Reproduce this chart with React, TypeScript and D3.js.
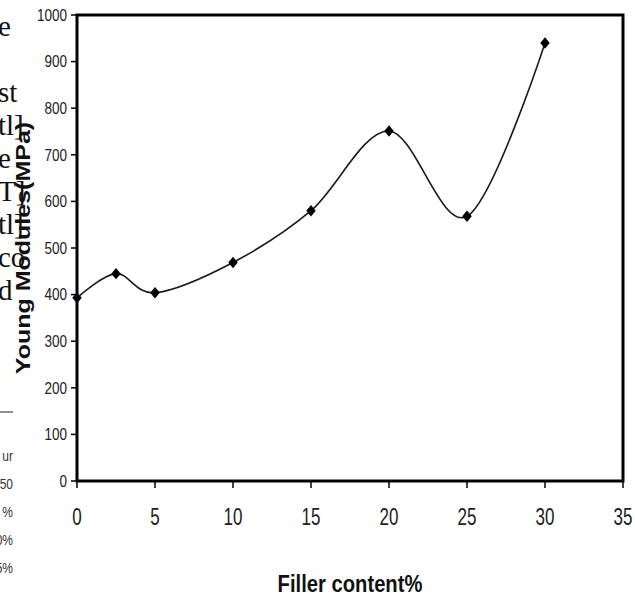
import React from 'react';
import * as d3 from 'd3';

// chart data
const fillerContent = [0, 2.5, 5, 10, 15, 20, 25, 30];
const youngModulus = [393, 445, 404, 469, 580, 751, 568, 940];
const xTicks = [0, 5, 10, 15, 20, 25, 30, 35];
const yTicks = [0, 100, 200, 300, 400, 500, 600, 700, 800, 900, 1000];

// bits of the page text that got cropped into the picture
const pageLines = ['e', '', 'st', 'tl]', 'e', 'T]', 'tl]', 'co', 'd'];
const tableBits = ['ur', '50', '%', '0%', '5%'];

const width = 635;
const height = 598;
const margin = { top: 15, right: 12, bottom: 117, left: 77 };
const sans = 'Liberation Sans, Arial, Helvetica, sans-serif';

// slightly tall diamond, like the Excel marker
const tallDiamond = {
  draw(ctx: any, size: number) {
    const r = Math.sqrt(size) / 2;
    ctx.moveTo(0, -r * 1.2);
    ctx.lineTo(r, 0);
    ctx.lineTo(0, r * 1.2);
    ctx.lineTo(-r, 0);
    ctx.closePath();
  },
};

const App = () => {
  const x = d3
    .scaleLinear()
    .domain([0, 35])
    .range([margin.left, width - margin.right]);
  const y = d3
    .scaleLinear()
    .domain([0, 1000])
    .range([height - margin.bottom, margin.top]);

  const points = fillerContent.map((f, i) => [f, youngModulus[i]] as [number, number]);

  const line = d3
    .line<[number, number]>()
    .x((d) => x(d[0]))
    .y((d) => y(d[1]))
    .curve(d3.curveCatmullRom.alpha(0));

  const marker = d3.symbol().type(tallDiamond as any).size(90);

  const x0 = x(0);
  const x1 = x(35);
  const y0 = y(0);
  const y1 = y(1000);

  return (
    <svg
      width={width}
      height={height}
      style={{ position: 'fixed', left: 0, top: 0, background: '#fff', display: 'block' }}
    >
      <rect x={0} y={0} width={width} height={height} fill="#fff" />

      {/* cropped page text on the left */}
      {pageLines.map((t, i) => (
        <text
          key={'p' + i}
          x={-2}
          y={36 + i * 33}
          style={{ fontFamily: 'Liberation Serif, Times New Roman, serif', fontSize: '29px' }}
          fill="#111"
        >
          {t}
        </text>
      ))}
      <line x1={0} x2={13} y1={412} y2={412} stroke="#555" strokeWidth={1.3} />
      {tableBits.map((t, i) => (
        <text
          key={'t' + i}
          transform={`translate(13,${456 + i * 28}) scale(0.8,1)`}
          textAnchor="end"
          dy="0.35em"
          style={{ fontFamily: sans, fontSize: '15px' }}
          fill="#333"
        >
          {t}
        </text>
      ))}

      {/* y ticks */}
      {yTicks.map((t) => (
        <g key={'y' + t}>
          <line x1={x0 - 6} x2={x0} y1={y(t)} y2={y(t)} stroke="#000" strokeWidth={1.5} />
          <text
            transform={`translate(${x0 - 10},${y(t)}) scale(0.82,1)`}
            textAnchor="end"
            dy="0.35em"
            style={{ fontFamily: sans, fontSize: '16.5px' }}
            fill="#222"
          >
            {t}
          </text>
        </g>
      ))}

      {/* x ticks */}
      {xTicks.map((t) => (
        <g key={'x' + t}>
          <line x1={x(t)} x2={x(t)} y1={y0} y2={y0 + 7} stroke="#000" strokeWidth={1.5} />
          <text
            transform={`translate(${x(t)},517) scale(0.74,1)`}
            textAnchor="middle"
            dy="0.35em"
            style={{ fontFamily: sans, fontSize: '23px' }}
            fill="#222"
          >
            {t}
          </text>
        </g>
      ))}

      {/* frame */}
      <rect
        x={x0}
        y={y1}
        width={x1 - x0}
        height={y0 - y1}
        fill="none"
        stroke="#000"
        strokeWidth={3}
      />

      {/* smoothed line and markers */}
      <path d={line(points) || ''} fill="none" stroke="#1a1a1a" strokeWidth={1.6} />
      {points.map((p, i) => (
        <path
          key={'m' + i}
          d={marker() || ''}
          transform={`translate(${x(p[0])},${y(p[1])})`}
          fill="#000"
        />
      ))}

      {/* axis titles */}
      <text
        transform={`translate(23,${(y0 + y1) / 2}) rotate(-90) scale(1,0.82)`}
        textAnchor="middle"
        dy="0.35em"
        style={{ fontFamily: sans, fontSize: '25px', fontWeight: 'bold' }}
        fill="#111"
      >
        Young Modules(MPa)
      </text>
      <text
        transform={`translate(${(x0 + x1) / 2},584) scale(0.86,1)`}
        textAnchor="middle"
        dy="0.35em"
        style={{ fontFamily: sans, fontSize: '23.5px', fontWeight: 'bold' }}
        fill="#111"
      >
        Filler content%
      </text>
    </svg>
  );
};

export default App;
